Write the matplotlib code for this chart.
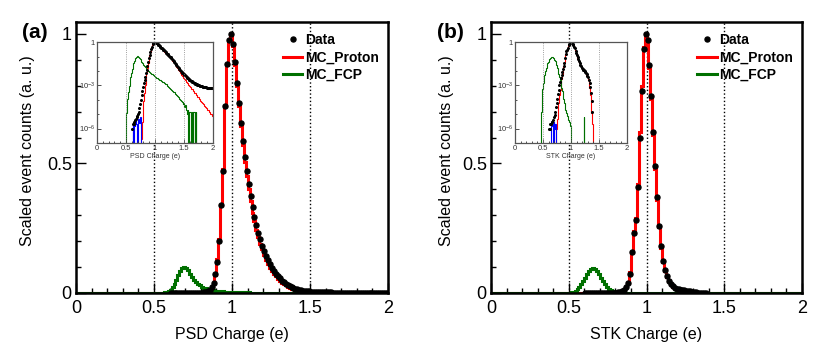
import numpy as np
import matplotlib
matplotlib.use('Agg')
import matplotlib.pyplot as plt
from matplotlib.ticker import MultipleLocator, FixedLocator, NullFormatter
from matplotlib.lines import Line2D

plt.rcParams['font.family'] = ['Liberation Sans', 'DejaVu Sans']
plt.rcParams['mathtext.fontset'] = 'custom'
plt.rcParams['mathtext.rm'] = 'Liberation Sans'
plt.rcParams['mathtext.it'] = 'Liberation Sans:italic'

### Binning ###
BIN_W = 0.0125
N_BINS = 160
edges = np.linspace(0, 2, N_BINS + 1)
centers = 0.5 * (edges[:-1] + edges[1:])

### Panel (a): PSD charge ###
psd_data_start = 0.6
psd_data = [
    1e-6, 2e-6, 2e-6, 3e-6, 4e-6, 5e-6, 6e-6, 8e-6,
    1.1e-5, 1.5e-5, 2.5e-5, 5e-5, 1e-4, 2e-4, 4e-4, 8e-4,
    1.5e-3, 2.5e-3, 4e-3, 7e-3, 0.012, 0.022, 0.04, 0.075,
    0.12, 0.2, 0.34, 0.47, 0.72, 0.885, 0.975, 1.0,
    0.96, 0.89, 0.81, 0.735, 0.655, 0.585, 0.525, 0.47,
    0.42, 0.375, 0.33, 0.295, 0.262, 0.232, 0.207, 0.183,
    0.162, 0.143, 0.126, 0.111, 0.098, 0.086, 0.075, 0.065,
    0.056, 0.048, 0.041, 0.035, 0.03, 0.026, 0.022, 0.019,
    0.016, 0.0135, 0.0115, 0.0098, 0.0085, 0.0075, 0.0068, 0.0062,
    0.0055, 0.0049, 0.0044, 0.0039, 0.0035, 0.0031, 0.0028, 0.0025,
    0.0023, 0.0021, 0.0019, 0.0017, 0.0016, 0.0015, 0.0014, 0.0013,
    0.0012, 0.00115, 0.0011, 0.00105, 0.001, 9.6e-4, 9.2e-4, 8.8e-4,
    8.5e-4, 8.2e-4, 7.9e-4, 7.7e-4, 7.5e-4, 7.3e-4, 7.1e-4, 7e-4,
    6.9e-4, 6.8e-4, 6.7e-4, 6.6e-4, 6.6e-4, 6.5e-4, 6.5e-4, 6.4e-4,
]
psd_proton_start = 0.7
psd_proton = [
    0, 0, 0, 0, 0, 2e-7, 3e-6, 2e-5,
    8e-5, 3e-4, 1e-3, 3e-3, 7e-3, 0.016, 0.035, 0.07,
    0.13, 0.21, 0.34, 0.48, 0.72, 0.88, 0.975, 1.0,
    0.955, 0.88, 0.8, 0.72, 0.645, 0.57, 0.505, 0.45,
    0.4, 0.355, 0.31, 0.278, 0.245, 0.215, 0.19, 0.168,
    0.147, 0.128, 0.112, 0.097, 0.085, 0.074, 0.064, 0.055,
    0.047, 0.04, 0.034, 0.029, 0.024, 0.02, 0.017, 0.014,
    0.0118, 0.0098, 0.0082, 0.0068, 0.0056, 0.0047, 0.004, 0.0034,
    0.0029, 0.0025, 0.0021, 0.0018, 0.0015, 0.0013, 0.0011, 9.4e-4,
    8e-4, 7.2e-4, 5.5e-4, 5.2e-4, 4e-4, 3.9e-4, 2.9e-4, 2.8e-4,
    2.2e-4, 2.1e-4, 1.6e-4, 1.5e-4, 1.2e-4, 1.1e-4, 8.8e-5, 8.2e-5,
    6.5e-5, 6e-5, 4.8e-5, 4.5e-5, 3.5e-5, 3.3e-5, 2.6e-5, 2.4e-5,
    1.9e-5, 1.8e-5, 1.4e-5, 1.35e-5, 1.05e-5, 1e-5, 7.5e-6, 7e-6,
]
psd_fcp_start = 0.5
psd_fcp = [
    1.2e-5, 4e-5, 1.2e-4, 3.5e-4, 9e-4, 2e-3, 4e-3, 7.5e-3,
    0.013, 0.022, 0.034, 0.05, 0.068, 0.085, 0.097, 0.101,
    0.098, 0.088, 0.075, 0.063, 0.052, 0.043, 0.036, 0.03,
    0.025, 0.021, 0.018, 0.0155, 0.0135, 0.012, 0.0106, 0.0095,
    0.0085, 0.0077, 0.007, 0.0063, 0.0057, 0.0052, 0.0047, 0.0043,
    0.0039, 0.0036, 0.0033, 0.003, 0.0028, 0.0026, 0.0024, 0.0022,
    0.002, 0.0018, 0.0017, 0.0016, 0.0015, 0.0014, 0.0013, 0.0012,
    9.5e-4, 8.5e-4, 8e-4, 7e-4, 6.2e-4, 5.5e-4, 5e-4, 4.4e-4,
    4e-4, 3.5e-4, 3.3e-4, 2.8e-4, 2.4e-4, 2.2e-4, 1.9e-4, 1.6e-4,
    1.5e-4, 1.2e-4, 1.1e-4, 9e-5, 8e-5, 7e-5, 5e-5, 6e-5,
    3e-5, 4e-5, 2e-5, 2e-5, 1e-5, 2e-5, 0, 1.5e-5,
    1.5e-5, 0, 0, 1.5e-5, 0, 1.5e-5, 1.5e-5, 0,
    1.5e-5, 0, 0, 0, 0, 0, 0, 0,
]
psd_low_start = 0.6
psd_low = [0, 2e-6, 0, 3e-6, 1.5e-6, 4e-6, 2e-6, 0, 3e-6, 5e-6, 2.5e-6, 6e-6]

### Panel (b): STK charge ###
stk_data_start = 0.6
stk_data = [
    1e-6, 1e-6, 2e-6, 2e-6, 3e-6, 3e-6, 4e-6, 6e-6,
    9e-6, 1.5e-5, 3e-5, 6e-5, 1.2e-4, 2.5e-4, 5e-4, 1e-3,
    1.8e-3, 3e-3, 5e-3, 8e-3, 0.013, 0.022, 0.037, 0.075,
    0.16, 0.23, 0.28, 0.41, 0.6, 0.78, 0.94, 1.0,
    0.975, 0.88, 0.76, 0.62, 0.49, 0.37, 0.26, 0.18,
    0.125, 0.089, 0.066, 0.048, 0.035, 0.027, 0.021, 0.017,
    0.0145, 0.0125, 0.011, 0.0097, 0.0085, 0.0073, 0.006, 0.0048,
    0.0036, 0.0025, 0.0015, 8e-4, 3e-4, 8e-5, 1.5e-5, 0,
]
stk_proton_start = 0.7
stk_proton = [
    0, 0, 2e-7, 1e-6, 5e-6, 2e-5, 6e-5, 2e-4,
    5e-4, 1.2e-3, 2.8e-3, 6e-3, 0.012, 0.022, 0.04, 0.08,
    0.16, 0.24, 0.29, 0.42, 0.62, 0.8, 0.95, 1.0,
    0.97, 0.87, 0.75, 0.61, 0.48, 0.36, 0.255, 0.175,
    0.12, 0.085, 0.062, 0.045, 0.033, 0.025, 0.0195, 0.016,
    0.0135, 0.0117, 0.0102, 0.009, 0.0078, 0.0066, 0.0052, 0.0038,
    0.0025, 0.0014, 6.5e-4, 2.2e-4, 6e-5, 1.2e-5, 2e-6, 3e-7,
]
stk_fcp_start = 0.4
stk_fcp = [
    0, 0, 0, 0, 0, 1.5e-5, 2e-4, 6e-4,
    1.5e-3, 3e-3, 5.5e-3, 9.5e-3, 0.015, 0.023, 0.033, 0.045,
    0.058, 0.072, 0.085, 0.094, 0.097, 0.093, 0.084, 0.072,
    0.059, 0.046, 0.034, 0.024, 0.016, 0.0105, 6.5e-3, 4e-3,
    2.3e-3, 1.3e-3, 7e-4, 3.8e-4, 2e-4, 1.1e-4, 6e-5, 3.5e-5,
    2e-5, 1.2e-5, 8e-6, 5e-6, 4e-6, 3e-6, 2e-6, 1.5e-6,
    0, 0, 0, 0, 0, 0, 0, 0,
    0, 0, 0, 0, 0, 0, 0, 0,
    0, 0, 6e-6, 0, 0, 0, 0, 0,
]
stk_low_start = 0.65
stk_low = [1.5e-6, 2e-6, 0, 3e-6, 1e-6, 2e-6]

GREEN = '#007000'
fmt_g = matplotlib.ticker.FuncFormatter(lambda v, p: '%g' % v)


def full(vals, start):
    out = np.zeros(N_BINS)
    i0 = int(round(start / BIN_W))
    out[i0:i0 + len(vals)] = vals
    return out


def draw_panel(fig, pos, inset_pos, tag, tag_xy, xlabel, ylab_x,
               data, proton, fcp, low):
    ax = fig.add_axes(pos)
    ax.stairs(proton, edges, color='red', lw=2.2, baseline=None, zorder=2)
    ax.stairs(fcp, edges, color=GREEN, lw=2.2, baseline=None, zorder=2)
    m = data > 0
    ax.plot(centers[m], data[m], 'o', color='k', ms=3.6, zorder=3)
    for xv in (0.5, 1.0, 1.5):
        ax.axvline(xv, ls=':', color='k', lw=1.0, zorder=1)
    ax.set_xlim(0, 2)
    ax.set_ylim(0, 1.047)
    ax.xaxis.set_major_locator(MultipleLocator(0.5))
    ax.xaxis.set_minor_locator(MultipleLocator(0.1))
    ax.yaxis.set_major_locator(MultipleLocator(0.5))
    ax.yaxis.set_minor_locator(MultipleLocator(0.1))
    ax.xaxis.set_major_formatter(fmt_g)
    ax.yaxis.set_major_formatter(fmt_g)
    ax.tick_params(which='both', direction='in', top=False, right=False,
                   labelsize=13, width=1.0)
    ax.tick_params(which='major', length=7)
    ax.tick_params(which='minor', length=3.5)
    ax.tick_params(axis='x', pad=5)
    ax.tick_params(axis='y', pad=3)
    for s in ax.spines.values():
        s.set_linewidth(1.8)
    ax.set_xlabel(xlabel, fontsize=11.5)
    ax.xaxis.set_label_coords(0.5, -0.125)
    ax.set_ylabel('Scaled event counts (a. u.)', fontsize=11.5)
    ax.yaxis.set_label_coords(ylab_x, 0.523)

    handles = [Line2D([], [], ls='none', marker='o', color='k', ms=3.6),
               Line2D([], [], color='red', lw=2.2),
               Line2D([], [], color=GREEN, lw=2.2)]
    ax.legend(handles, ['Data', 'MC_Proton', 'MC_FCP'], loc='upper left',
              bbox_to_anchor=(0.663, 0.958), frameon=False,
              prop={'weight': 'bold', 'size': 10}, handlelength=1.4,
              handletextpad=0.2, labelspacing=0.25, borderpad=0,
              borderaxespad=0)

    fig.text(tag_xy[0], tag_xy[1], tag, fontsize=15, weight='bold', va='center')

    # log-scale inset
    ins = fig.add_axes(inset_pos)
    ins.set_facecolor('white')
    tiny = 1e-12
    ins.stairs(np.where(proton > 0, proton, tiny), edges, color='red', lw=0.8, baseline=None)
    ins.stairs(np.where(fcp > 0, fcp, tiny), edges, color=GREEN, lw=0.8, baseline=None)
    ins.stairs(np.where(low > 0, low, tiny), edges, color='blue', lw=0.8, baseline=None)
    ins.plot(centers[m], data[m], 'o', color='k', ms=1.2)
    for xv in (0.5, 1.0, 1.5):
        ins.axvline(xv, ls=':', color='gray', lw=0.6)
    ins.set_yscale('log')
    ins.set_xlim(0, 2)
    ins.set_ylim(1e-7, 1.02)
    ins.yaxis.set_major_locator(FixedLocator([1e-6, 1e-3, 1]))
    ins.yaxis.set_major_formatter(matplotlib.ticker.FixedFormatter(
        ['$10^{-6}$', '$10^{-3}$', '1']))
    ins.yaxis.set_minor_locator(FixedLocator([1e-7, 1e-5, 1e-4, 1e-2, 1e-1]))
    ins.yaxis.set_minor_formatter(NullFormatter())
    ins.xaxis.set_major_locator(MultipleLocator(0.5))
    ins.xaxis.set_minor_locator(MultipleLocator(0.1))
    ins.xaxis.set_major_formatter(fmt_g)
    ins.tick_params(which='both', direction='in', top=False, right=False,
                    labelsize=5.5, colors='#333333', width=0.6, pad=1.5)
    ins.tick_params(which='major', length=3)
    ins.tick_params(which='minor', length=1.5)
    for s in ins.spines.values():
        s.set_linewidth(0.9)
        s.set_color('#555555')
    ins.set_xlabel(xlabel, fontsize=5, labelpad=1, color='#333333')
    return ax, ins


fig = plt.figure(figsize=(8.3, 3.58), dpi=100)

draw_panel(fig, [0.0916, 0.1816, 0.3759, 0.7578], [0.1169, 0.6006, 0.1398, 0.2821],
           '(a)', (22 / 830, 1 - 32 / 358), 'PSD Charge (e)', -0.131,
           full(psd_data, psd_data_start), full(psd_proton, psd_proton_start),
           full(psd_fcp, psd_fcp_start), full(psd_low, psd_low_start))

draw_panel(fig, [0.5916, 0.1816, 0.3747, 0.7578], [0.6205, 0.6006, 0.135, 0.2821],
           '(b)', (437 / 830, 1 - 32 / 358), 'STK Charge (e)', -0.119,
           full(stk_data, stk_data_start), full(stk_proton, stk_proton_start),
           full(stk_fcp, stk_fcp_start), full(stk_low, stk_low_start))

fig.savefig('out.png', dpi=100)
